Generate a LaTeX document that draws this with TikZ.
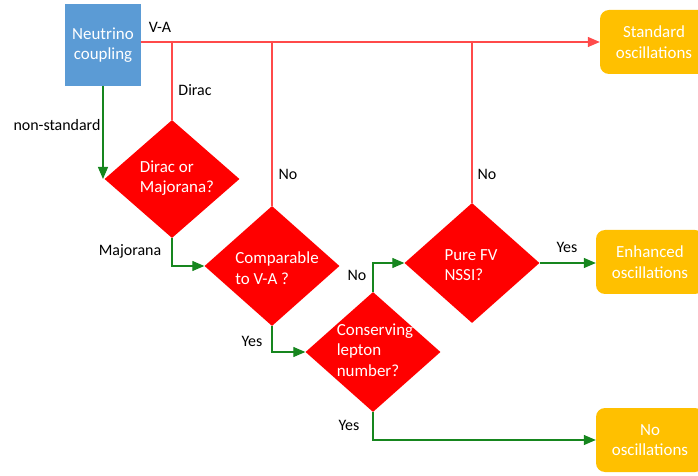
\documentclass[tikz,border=0pt]{standalone}
\usepackage{fontspec}
\setmainfont{Carlito}
\usetikzlibrary{arrows.meta,shapes.geometric}
\definecolor{boxblue}{HTML}{5B9BD5}
\definecolor{gold}{HTML}{FFC000}
\definecolor{lred}{HTML}{FF4A4A}
\definecolor{dgreen}{HTML}{16861E}
\tikzset{
  nodetext/.style={font=\fontsize{17}{20.5}\selectfont, text=white, align=left},
  bluebox/.style={fill=boxblue, nodetext, align=center, minimum width=76bp, minimum height=82bp, inner sep=0pt},
  goldbox/.style={fill=gold, rounded corners=9bp, nodetext, align=center, minimum width=108bp, minimum height=64bp, inner sep=0pt},
  dia/.style={diamond, fill=red, inner sep=0pt, minimum width=135bp, minimum height=120bp},
  lbl/.style={font=\fontsize{16}{19}\selectfont, text=black, inner sep=0pt},
  redline/.style={draw=lred, line width=1.2bp},
  greenline/.style={draw=dgreen, line width=1.2bp},
  tip/.style={-{Triangle[length=12bp,width=10bp]}},
}
\begin{document}
\begin{tikzpicture}[x=1bp,y=-1bp]
\useasboundingbox (0,0) rectangle (698,476);
% boxes
\node[bluebox] (nc) at (103,45) {Neutrino\\coupling};
\node[goldbox] (std) at (654,42) {Standard\\oscillations};
\node[goldbox] (enh) at (650,262) {Enhanced\\oscillations};
\node[goldbox] (noosc) at (650,440) {No\\oscillations};
% diamonds
\node[dia, minimum height=118bp] (d1) at (172,179) {};
\node[dia] (d2) at (272,266) {};
\node[dia] (d3) at (373,352) {};
\node[dia] (d4) at (472,263) {};
\node[nodetext] (t1) at (177,178) {Dirac or\\Majorana?};
\node[nodetext] (t2) at (277,268) {Comparable\\to V-A ?};
\node[nodetext] (t3) at (375,350) {Conserving\\lepton\\number?};
\node[nodetext] (t4) at (471,265) {Pure FV\\NSSI?};
% red connectors
\draw[redline, tip] (nc.east |- std.west) -- (std.west);
\draw[redline] (d1.north) -- (d1.north |- std.west);
\draw[redline] (d2.north) -- (d2.north |- std.west);
\draw[redline] (d4.north) -- (d4.north |- std.west);
% green connectors
\draw[greenline, tip] (nc.south) -- (nc.south |- d1.west);
\draw[greenline, tip] (d1.south) |- (d2.west);
\draw[greenline, tip] (d2.south) |- (d3.west);
\draw[greenline, tip] (d3.north) |- (d4.west);
\draw[greenline, tip] (d4.east) -- (d4.east -| enh.west);
\draw[greenline, tip] (d3.south) |- (noosc.west);
% labels
\node[lbl] (lva) at (160,27) {V-A};
\node[lbl] (ldirac) at (195,90) {Dirac};
\node[lbl] (lno1) at (288,174) {No};
\node[lbl] (lno2) at (487,174) {No};
\node[lbl] (lns) at (57,125) {non-standard};
\node[lbl] (lmaj) at (130,251) {Majorana};
\node[lbl] (lyes1) at (252,341) {Yes};
\node[lbl] (lno3) at (357,275) {No};
\node[lbl] (lyes2) at (567,247) {Yes};
\node[lbl] (lyes3) at (349,425) {Yes};
\end{tikzpicture}
\end{document}
